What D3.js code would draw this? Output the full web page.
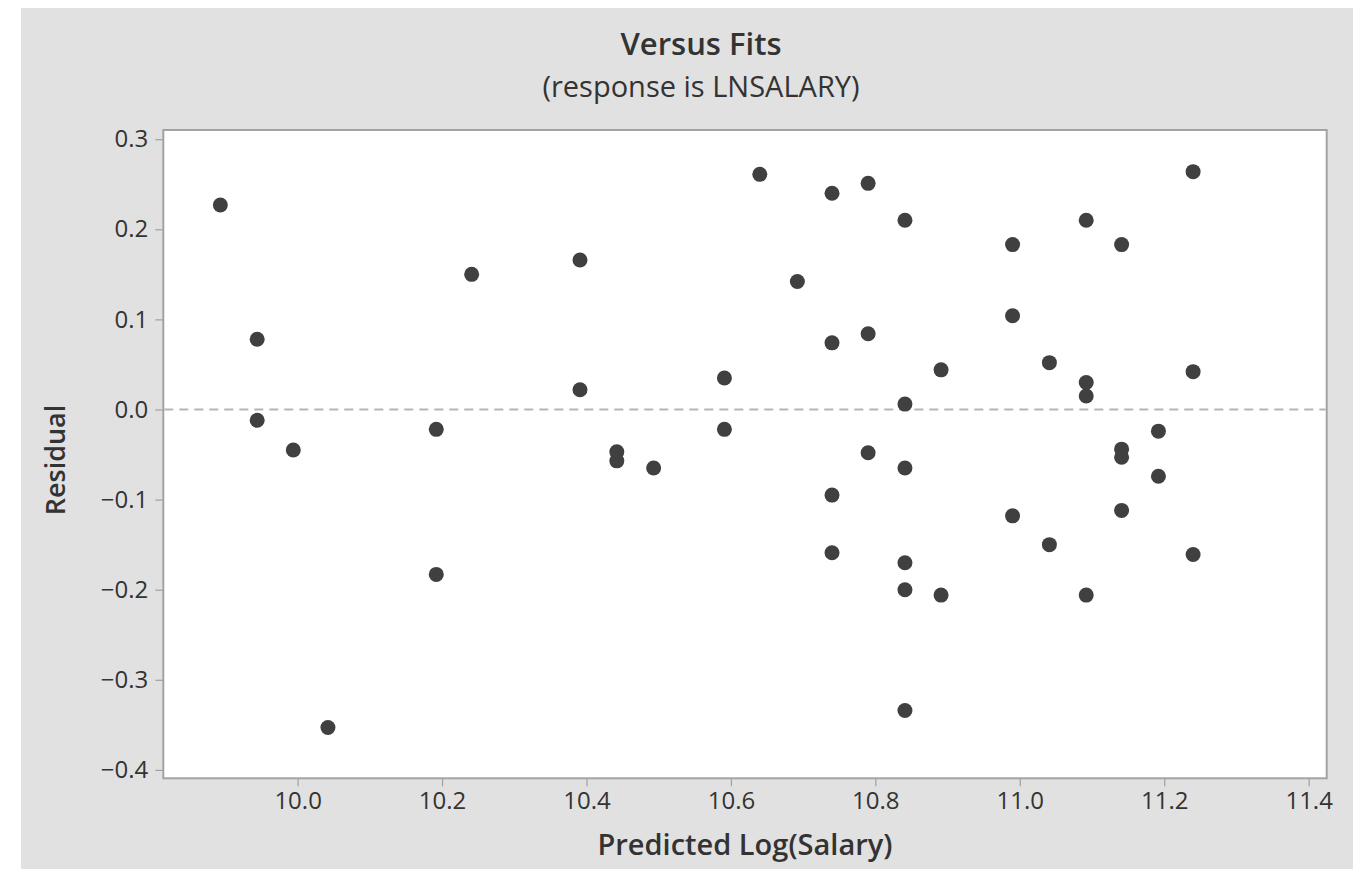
<!DOCTYPE html>
<html>
<head>
<meta charset="utf-8">
<script src="https://cdn.jsdelivr.net/npm/d3@7"></script>
<style>
  body { margin: 0; background: #fff; }
  text { font-family: "Open Sans", "Noto Sans", sans-serif; }
</style>
</head>
<body>
<div id="chart"></div>
<script>
// fitted values (x) and residuals (y)
let fits = [
    9.893, 9.944, 9.944, 9.994, 10.192, 10.241, 10.192, 10.042,
    10.640, 10.740, 10.790, 10.841, 10.391, 10.692, 10.740, 10.790,
    10.891, 10.391, 10.591, 10.841, 10.591,
    10.442, 10.442, 10.493, 10.790, 10.841, 10.740, 10.740, 10.841,
    10.841, 10.891, 10.841,
    11.240, 11.092, 10.990, 11.141, 10.990, 11.041, 11.092, 11.092,
    11.240, 11.192,
    11.141, 11.141, 11.192, 10.990, 11.141, 11.041, 11.240, 11.092
]
let residuals = [
    0.227, 0.078, -0.012, -0.045, -0.022, 0.150, -0.183, -0.353,
    0.261, 0.240, 0.251, 0.210, 0.166, 0.142, 0.074, 0.084,
    0.044, 0.022, 0.035, 0.006, -0.022,
    -0.047, -0.057, -0.065, -0.048, -0.065, -0.095, -0.159, -0.170,
    -0.200, -0.206, -0.334,
    0.264, 0.210, 0.183, 0.183, 0.104, 0.052, 0.030, 0.015,
    0.042, -0.024,
    -0.044, -0.053, -0.074, -0.118, -0.112, -0.150, -0.161, -0.206
]
let xTicks = [10.0, 10.2, 10.4, 10.6, 10.8, 11.0, 11.2, 11.4]
let yTicks = [-0.4, -0.3, -0.2, -0.1, 0.0, 0.1, 0.2, 0.3]
let title = "Versus Fits"
let subtitle = "(response is LNSALARY)"
let xLabel = "Predicted Log(Salary)"
let yLabel = "Residual"

let width = 1353
let height = 874
let plot = { left: 163.3, right: 1326.7, top: 130, bottom: 778.3 }
let dotColor = "#404040"
let textColor = "#333333"

let svg = d3.select("#chart")
    .append("svg")
    .attr("width", width)
    .attr("height", height)

// grey panel
svg.append("rect")
    .attr("x", 21)
    .attr("y", 8)
    .attr("width", width - 21)
    .attr("height", 861)
    .attr("fill", "#e1e1e1")

let x = d3.scaleLinear()
    .domain([9.814, 11.425])
    .range([plot.left, plot.right])
let y = d3.scaleLinear()
    .domain([-0.4093, 0.3102])
    .range([plot.bottom, plot.top])

// white data region
svg.append("rect")
    .attr("x", plot.left)
    .attr("y", plot.top)
    .attr("width", plot.right - plot.left)
    .attr("height", plot.bottom - plot.top)
    .attr("fill", "#ffffff")
    .attr("stroke", "#a3a3a3")
    .attr("stroke-width", 2)

let xAxis = svg.append("g")
    .attr("transform", "translate(0," + plot.bottom + ")")
    .call(d3.axisBottom(x).tickValues(xTicks).tickFormat(d3.format(".1f")).tickSize(8).tickSizeOuter(0).tickPadding(6))
let yAxis = svg.append("g")
    .attr("transform", "translate(" + plot.left + ",0)")
    .call(d3.axisLeft(y).tickValues(yTicks).tickFormat(d3.format(".1f")).tickSize(8).tickSizeOuter(0).tickPadding(7))

for (let ax of [xAxis, yAxis]) {
    ax.select(".domain").remove()
    ax.selectAll(".tick line").attr("stroke", "#a0a0a0").attr("stroke-width", 1.2)
    ax.selectAll(".tick text")
        .attr("fill", textColor)
        .style("font-size", "24px")
}

// zero reference line
svg.append("line")
    .attr("x1", plot.left + 1)
    .attr("x2", plot.right - 1)
    .attr("y1", y(0))
    .attr("y2", y(0))
    .attr("stroke", "#b5b5b5")
    .attr("stroke-width", 2.2)
    .attr("stroke-dasharray", "9,6")

let points = fits.map((f, i) => ({ fit: f, res: residuals[i] }))
svg.append("g")
    .selectAll(".dot")
    .data(points)
    .enter()
    .append("circle")
    .attr("class", "dot")
    .attr("cx", d => x(d.fit))
    .attr("cy", d => y(d.res))
    .attr("r", 7.5)
    .attr("fill", dotColor)

// titles
svg.append("text")
    .text(title)
    .attr("x", 701)
    .attr("y", 55)
    .attr("text-anchor", "middle")
    .attr("fill", textColor)
    .style("font-size", "31px")
    .style("font-weight", 600)
svg.append("text")
    .text(subtitle)
    .attr("x", 701)
    .attr("y", 97)
    .attr("text-anchor", "middle")
    .attr("fill", textColor)
    .style("font-size", "29px")

svg.append("text")
    .text(xLabel)
    .attr("x", (plot.left + plot.right) / 2)
    .attr("y", 855)
    .attr("text-anchor", "middle")
    .attr("fill", textColor)
    .style("font-size", "29px")
    .style("font-weight", 600)
svg.append("text")
    .text(yLabel)
    .attr("transform", "translate(65,460) rotate(-90)")
    .attr("text-anchor", "middle")
    .attr("fill", textColor)
    .style("font-size", "27px")
    .style("font-weight", 600)
</script>
</body>
</html>
